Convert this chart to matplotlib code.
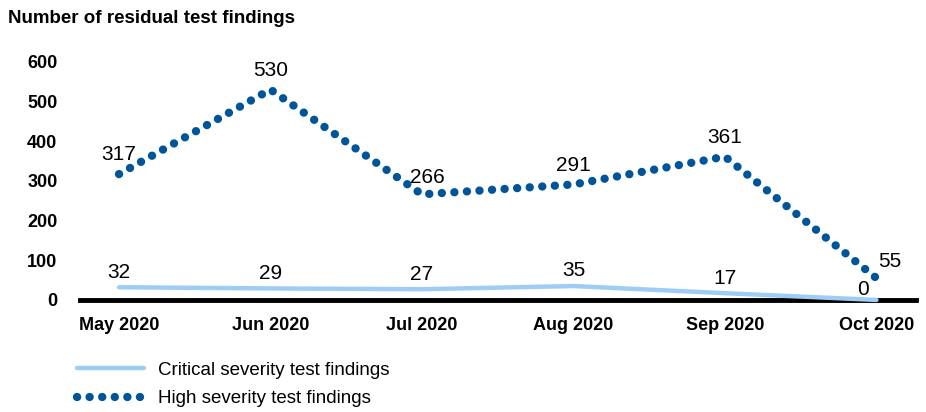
import numpy as np
import matplotlib
matplotlib.use("Agg")
import matplotlib.pyplot as plt

plt.rcParams['font.family'] = ['Liberation Sans', 'DejaVu Sans']

months = ["May 2020", "Jun 2020", "Jul 2020", "Aug 2020", "Sep 2020", "Oct 2020"]
critical = [32, 29, 27, 35, 17, 0]
high = [317, 530, 266, 291, 361, 55]

light_blue = "#9DCDF7"
dark_blue = "#00559A"

fig = plt.figure(figsize=(9.26, 4.12), dpi=100)
ax = fig.add_axes([0.086, 0.272, 0.903, 0.578])
x = np.arange(len(months))

ax.plot(x, critical, color=light_blue, lw=3.2, solid_capstyle='round',
        label="Critical severity test findings", clip_on=False)
ax.plot(x, high, color=dark_blue, lw=6, linestyle=(0, (0.01, 1.5)),
        dash_capstyle='round', label="High severity test findings", clip_on=False)

# data labels
for i, v in enumerate(critical):
    if i == 5:
        ax.annotate(str(v), (i - 0.09, v), xytext=(0, 1), textcoords="offset points",
                    ha='center', va='bottom', fontsize=15)
    else:
        ax.annotate(str(v), (i, v), xytext=(0, 4), textcoords="offset points",
                    ha='center', va='bottom', fontsize=15)
for i, v in enumerate(high):
    if i == 5:
        ax.annotate(str(v), (i, v), xytext=(1, 5), textcoords="offset points",
                    ha='left', va='bottom', fontsize=15)
    elif i == 2:
        ax.annotate(str(v), (i, v), xytext=(4, 5), textcoords="offset points",
                    ha='center', va='bottom', fontsize=15)
    else:
        ax.annotate(str(v), (i, v), xytext=(0, 7), textcoords="offset points",
                    ha='center', va='bottom', fontsize=15)

ax.set_xlim(-0.26, 5.26)
ax.set_ylim(0, 600)
ax.set_yticks([0, 100, 200, 300, 400, 500, 600])
ax.set_xticks(x)
ax.set_xticklabels(months)
for lab in ax.get_xticklabels() + ax.get_yticklabels():
    lab.set_fontweight('bold')
    lab.set_fontsize(13)
ax.tick_params(length=0)
ax.tick_params(axis='x', pad=12)
ax.tick_params(axis='y', pad=16)
for s in ['top', 'right', 'left']:
    ax.spines[s].set_visible(False)
ax.spines['bottom'].set_linewidth(3.5)
ax.spines['bottom'].set_zorder(0)

fig.text(0.009, 0.955, "Number of residual test findings", fontsize=13.5,
         fontweight='bold', ha='left', va='center')

fig.legend(loc='upper left', bbox_to_anchor=(0.075, 0.14), frameon=False,
           fontsize=13.5, handlelength=3.6, handletextpad=0.7, labelspacing=0.6,
           borderaxespad=0)

fig.savefig("out.png", dpi=100)
